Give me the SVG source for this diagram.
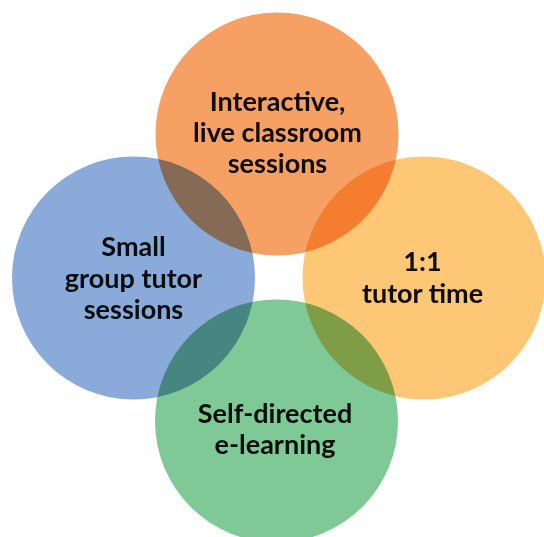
<svg xmlns="http://www.w3.org/2000/svg" width="544" height="537" viewBox="0 0 544 537">
<style>
.c{mix-blend-mode:multiply}
text{font-family:Lato,"Open Sans","Liberation Sans",sans-serif;font-weight:bold;font-size:27px;fill:#0d0d0d;text-anchor:middle}
</style>
<rect width="544" height="537" fill="#ffffff"/>
<g style="isolation:isolate">
<g id="top"><circle class="c" cx="277" cy="134" r="121.5" fill="#F6A064"/></g>
<g id="left"><circle class="c" cx="133.5" cy="278" r="121.5" fill="#8AAAD9"/></g>
<g id="right"><circle class="c" cx="424" cy="278" r="121.5" fill="#FEC776"/></g>
<g id="bottom"><circle class="c" cx="276.5" cy="421" r="121.5" fill="#7FC997"/></g>
</g>
<g id="connectors"></g>
<g id="labels">
<text x="277.5" y="111">Interactive,</text>
<text x="277.5" y="142">live classroom</text>
<text x="277.5" y="173">sessions</text>
<text x="133.5" y="256">Small</text>
<text x="133.5" y="288">group tutor</text>
<text x="133.5" y="319">sessions</text>
<text x="422.5" y="271">1:1</text>
<text x="422.5" y="303">tutor time</text>
<text x="275" y="423">Self-directed</text>
<text x="275" y="454">e-learning</text>
</g>
</svg>
